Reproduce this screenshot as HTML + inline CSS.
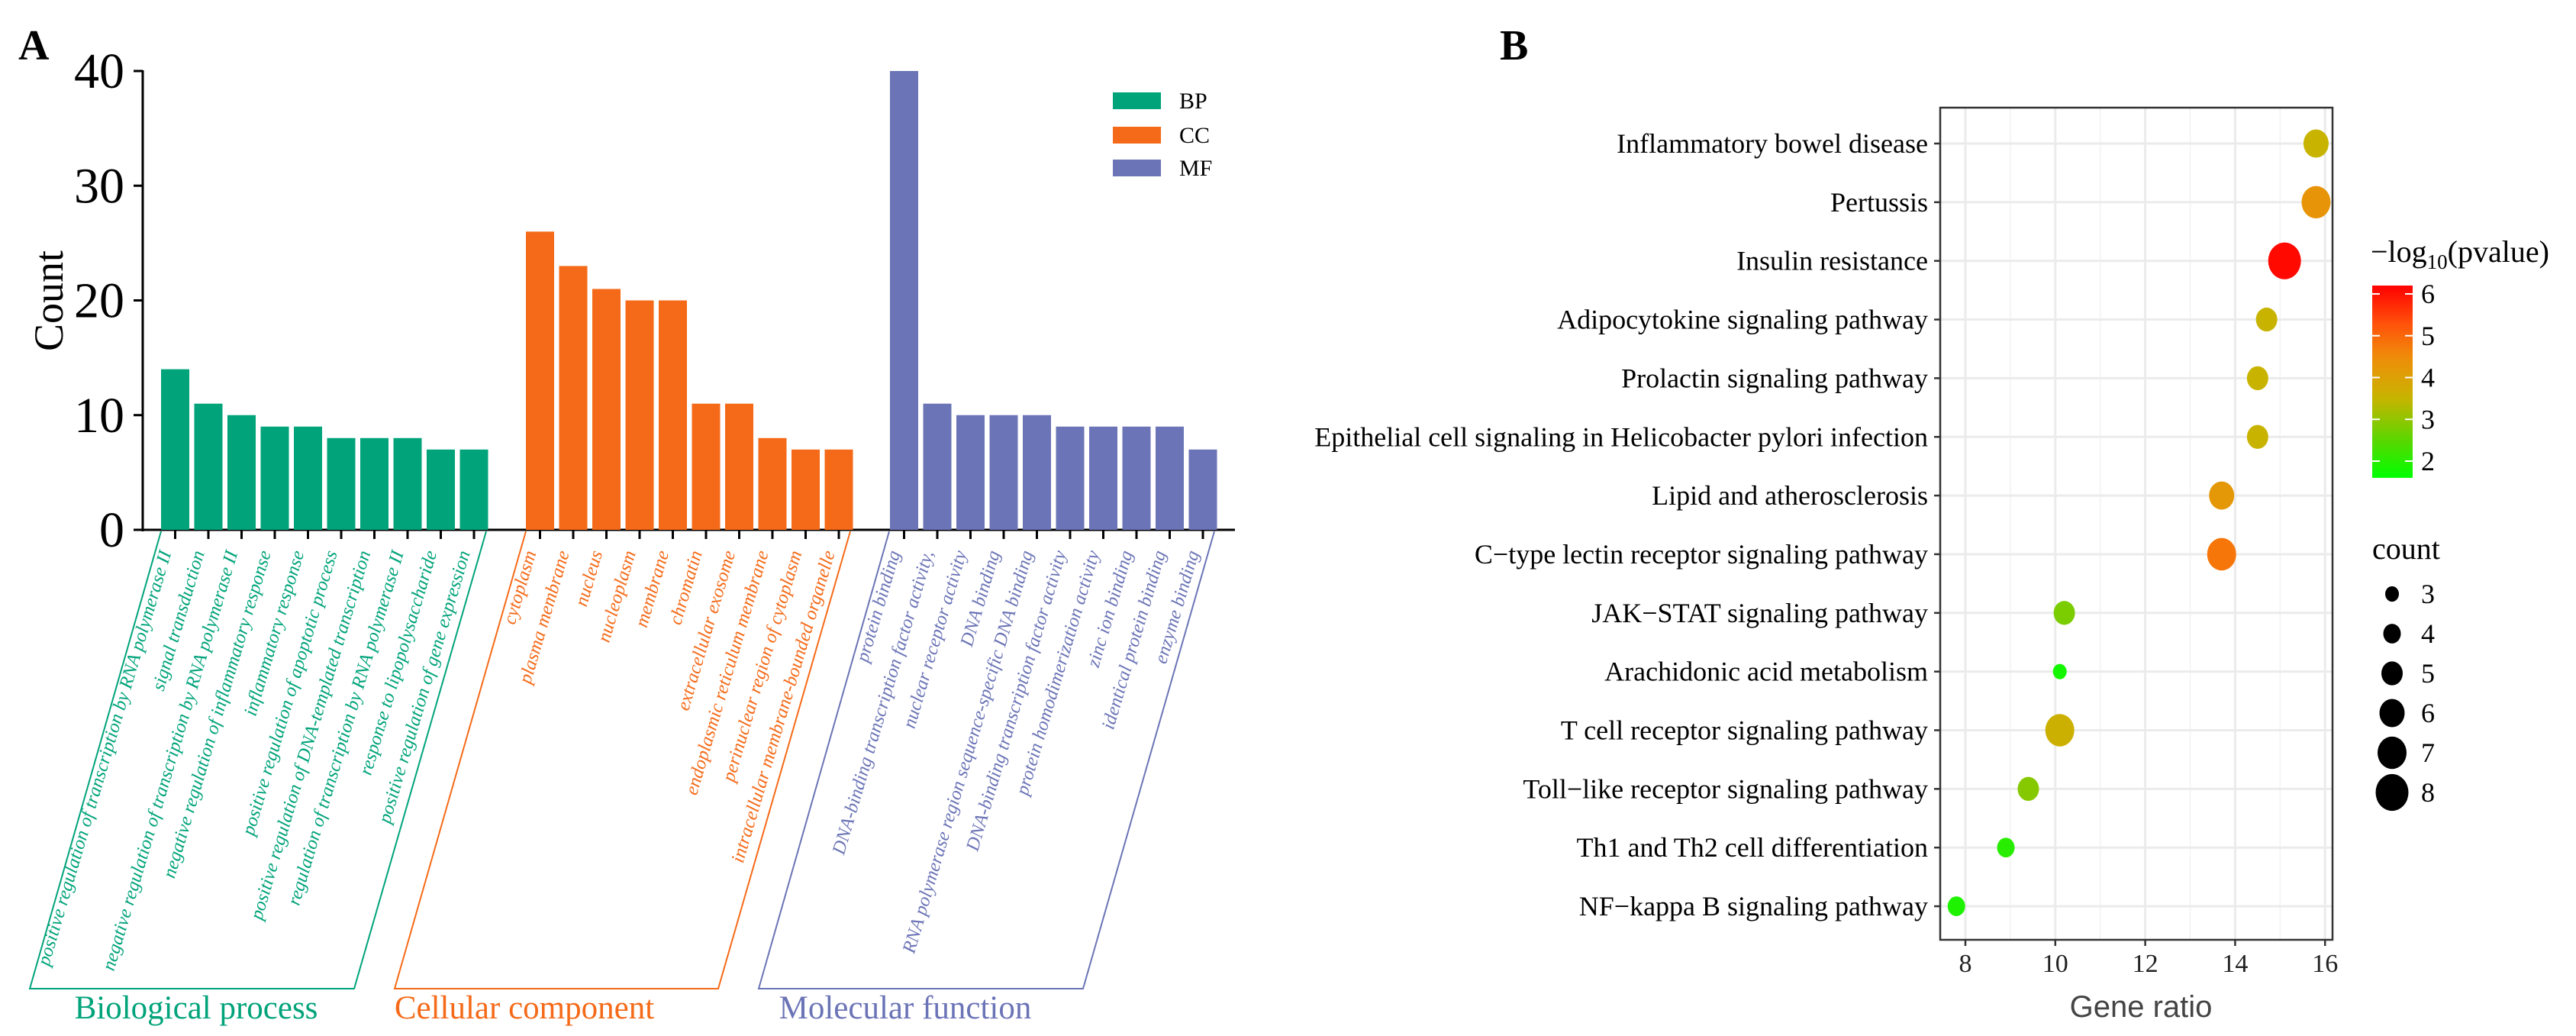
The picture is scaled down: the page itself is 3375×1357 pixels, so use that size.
<!DOCTYPE html>
<html><head><meta charset="utf-8"><style>html,body{margin:0;padding:0;background:#fff}svg{display:block}.s{font-family:"Liberation Serif",serif}.ss{font-family:"Liberation Sans",sans-serif}</style></head>
<body>
<svg id="fig" width="3375" height="1357" viewBox="0 0 3375 1357" xmlns="http://www.w3.org/2000/svg" style="font-family:'Liberation Serif',serif">
<g id="pa"></g>
<g id="pb"></g>
</svg>
<script>
// ---- Panel A data ----
const bpTerms = ["positive regulation of transcription by RNA polymerase II","signal transduction","negative regulation of transcription by RNA polymerase II","negative regulation of inflammatory response","inflammatory response","positive regulation of apoptotic process","positive regulation of DNA-templated transcription","regulation of transcription by RNA polymerase II","response to lipopolysaccharide","positive regulation of gene expression"];
const bpCounts = [14,11,10,9,9,8,8,8,7,7];
const ccTerms = ["cytoplasm","plasma membrane","nucleus","nucleoplasm","membrane","chromatin","extracellular exosome","endoplasmic reticulum membrane","perinuclear region of cytoplasm","intracellular membrane-bounded organelle"];
const ccCounts = [26,23,21,20,20,11,11,8,7,7];
const mfTerms = ["protein binding","DNA-binding transcription factor activity,","nuclear receptor activity","DNA binding","RNA polymerase region sequence-specific DNA binding","DNA-binding transcription factor activity","protein homodimerization activity","zinc ion binding","identical protein binding","enzyme binding"];
const mfCounts = [40,11,10,10,10,9,9,9,9,7];
const countTicks = [0,10,20,30,40];
// ---- Panel B data ----
const pathways = ["Inflammatory bowel disease","Pertussis","Insulin resistance","Adipocytokine signaling pathway","Prolactin signaling pathway","Epithelial cell signaling in Helicobacter pylori infection","Lipid and  atherosclerosis","C\u2212type lectin receptor signaling pathway","JAK\u2212STAT signaling pathway","Arachidonic acid metabolism","T cell receptor signaling pathway","Toll\u2212like receptor signaling pathway","Th1 and Th2 cell differentiation","NF\u2212kappa B signaling pathway"];
const geneRatio = [15.8,15.8,15.1,14.7,14.5,14.5,13.7,13.7,10.2,10.1,10.1,9.4,8.9,7.8];
const logP = [3.5,4.3,6.1,3.5,3.5,3.5,4.2,4.8,2.8,1.8,3.6,2.9,2.0,1.9];
const geneCount = [6,7,8,5,5,5,6,7,5,3,7,5,4,4];
const ratioTicks = [8,10,12,14,16];
const colorTicks = [2,3,4,5,6];
const sizeLegend = [3,4,5,6,7,8];

const NS="http://www.w3.org/2000/svg";
function mk(parent,tag,attrs,txt){const e=document.createElementNS(NS,tag);for(const k in attrs)e.setAttribute(k,attrs[k]);if(txt!==undefined)e.textContent=txt;if(tag==='text'&&!attrs['class'])e.setAttribute('class','s');parent.appendChild(e);return e;}

// ===== Panel A =====
const pa=document.getElementById('pa');
const yA=v=>694-v*15.025;
const GREEN="#00a37a",ORANGE="#f56a18",PURPLE="#6b74b6";
let t=mk(pa,'text',{x:24,y:78,'font-size':56,'font-weight':'bold'},'A');

t=mk(pa,'text',{x:0,y:0,'font-size':54,'text-anchor':'middle',transform:'translate(82,394) rotate(-90)'},'Count');

let l=mk(pa,'line',{x1:187,y1:92,x2:187,y2:696,stroke:'#000','stroke-width':3});

l=mk(pa,'line',{x1:185,y1:694,x2:1618,y2:694,stroke:'#000','stroke-width':3});

countTicks.forEach(v=>{
  const tk=mk(pa,'line',{x1:175,y1:yA(v),x2:187,y2:yA(v),stroke:'#000','stroke-width':3});
  
  const tl=mk(pa,'text',{x:163,y:yA(v)+22,'font-size':66,'text-anchor':'end'},String(v));
  
});
const groups=[{terms:bpTerms,vals:bpCounts,x0:211,color:GREEN,key:'bp'},{terms:ccTerms,vals:ccCounts,x0:689,color:ORANGE,key:'cc'},{terms:mfTerms,vals:mfCounts,x0:1166,color:PURPLE,key:'mf'}];
const pitch=43.5,bw=37;
groups.forEach(g=>{
  g.vals.forEach((v,i)=>{
    const x=g.x0+i*pitch;
    const r=mk(pa,'rect',{x:x,y:yA(v),width:bw,height:694-yA(v),fill:g.color});
    
    const cx=x+bw/2;
    const tk=mk(pa,'line',{x1:cx,y1:694,x2:cx,y2:706,stroke:'#000','stroke-width':3});
    
    const tl=mk(pa,'text',{x:0,y:0,'font-size':24.5,'font-style':'italic','text-anchor':'end',fill:g.color,transform:`translate(${cx-5},${724}) rotate(-73.5)`},g.terms[i]);
    
  });
});
const brackets=[{pts:"211,696 39,1295 464,1295 637,696",c:GREEN,lab:"Biological process",lx:257,k:'bp'},{pts:"689,696 517,1295 941,1295 1114,696",c:ORANGE,lab:"Cellular component",lx:687,k:'cc'},{pts:"1165,696 994,1295 1419,1295 1591,696",c:PURPLE,lab:"Molecular function",lx:1186,k:'mf'}];
brackets.forEach(b=>{
  const p=mk(pa,'polyline',{points:b.pts,fill:'none',stroke:b.c,'stroke-width':2});
  
  const tx=mk(pa,'text',{x:b.lx,y:1334,'font-size':43,'text-anchor':'middle',fill:b.c},b.lab);
  
});
[["BP",GREEN,121],["CC",ORANGE,166],["MF",PURPLE,209]].forEach(e=>{
  const r=mk(pa,'rect',{x:1458,y:e[2],width:63,height:22,fill:e[1]});
  
  const tx=mk(pa,'text',{x:1545,y:e[2]+21,'font-size':30},e[0]);
  
});

// ===== Panel B =====
const pb=document.getElementById('pb');
const L=2542,R=3056,T=141,B=1231;
const xB=v=>2575+(v-8)*58.9;
const yB=i=>188+i*76.85;
const cY=v=>604-(v-2)*54.75;
const rS=c=>9+(c-3)*2.5;
function colorOf(v){
  const st=[[1.6,[0,255,0]],[2.5,[90,215,0]],[3.5,[200,180,0]],[4.5,[240,140,10]],[5.3,[255,80,10]],[6.2,[255,0,0]]];
  if(v<=st[0][0])return 'rgb('+st[0][1]+')';
  for(let i=1;i<st.length;i++){if(v<=st[i][0]){const f=(v-st[i-1][0])/(st[i][0]-st[i-1][0]);const c=st[i-1][1].map((a,j)=>Math.round(a+(st[i][1][j]-a)*f));return `rgb(${c})`;}}
  return 'rgb(255,0,0)';
}
t=mk(pb,'text',{x:1965,y:78,'font-size':56,'font-weight':'bold'},'B');

[9,11,13,15].forEach(v=>{const g=mk(pb,'line',{x1:xB(v),y1:T,x2:xB(v),y2:B,stroke:'#f2f2f2','stroke-width':1.5});});
ratioTicks.forEach(v=>{
  const g=mk(pb,'line',{x1:xB(v),y1:T,x2:xB(v),y2:B,stroke:'#ebebeb','stroke-width':3});
  
  const tk=mk(pb,'line',{x1:xB(v),y1:B,x2:xB(v),y2:B+8,stroke:'#333','stroke-width':2.5});
  
  const tl=mk(pb,'text',{x:xB(v),y:B+42,'font-size':34,'text-anchor':'middle',fill:'#222'},String(v));
  
});
pathways.forEach((p,i)=>{
  const g=mk(pb,'line',{x1:L,y1:yB(i),x2:R,y2:yB(i),stroke:'#ebebeb','stroke-width':3});
  
  const tk=mk(pb,'line',{x1:L-8,y1:yB(i),x2:L,y2:yB(i),stroke:'#333','stroke-width':2.5});
  
  const tl=mk(pb,'text',{x:L-16,y:yB(i)+12,'font-size':36,'text-anchor':'end'},p);
  
});
pathways.forEach((p,i)=>{
  const r=rS(geneCount[i]);
  const c=mk(pb,'ellipse',{cx:xB(geneRatio[i]),cy:yB(i),rx:r,ry:r*1.12,fill:colorOf(logP[i])});
  
});
let fr=mk(pb,'rect',{x:L,y:T,width:R-L,height:B-T,fill:'none',stroke:'#333','stroke-width':2.5});

t=mk(pb,'text',{x:2805,y:1332,'font-size':40,'text-anchor':'middle',fill:'#444','class':'ss'},'Gene ratio');

// colorbar
const defs=mk(pb,'defs',{});
const lg=mk(defs,'linearGradient',{id:'cb',x1:0,y1:1,x2:0,y2:0});
for(let k=0;k<=20;k++){const v=1.6+(6.2-1.6)*k/20;mk(lg,'stop',{offset:k/20,'stop-color':colorOf(v)});}
t=mk(pb,'text',{x:3106,y:343,'font-size':40},'');

mk(t,'tspan',{},'\u2212log');mk(t,'tspan',{'font-size':27,dy:9},'10');mk(t,'tspan',{dy:-9},'(pvalue)');
let cb=mk(pb,'rect',{x:3108,y:cY(6.2),width:53,height:cY(1.6)-cY(6.2),fill:'url(#cb)'});

colorTicks.forEach(v=>{
  const a=mk(pb,'line',{x1:3108,y1:cY(v),x2:3118,y2:cY(v),stroke:'#fff','stroke-width':2});
  const b=mk(pb,'line',{x1:3151,y1:cY(v),x2:3161,y2:cY(v),stroke:'#fff','stroke-width':2});
  const tl=mk(pb,'text',{x:3172,y:cY(v)+12,'font-size':36},String(v));
  
});
t=mk(pb,'text',{x:3108,y:732,'font-size':40},'count');

sizeLegend.forEach((s,k)=>{
  const cy=778+k*52;
  const r=rS(s);
  const c=mk(pb,'ellipse',{cx:3134,cy:cy,rx:r,ry:r*1.12,fill:'#000'});
  
  const tl=mk(pb,'text',{x:3172,y:cy+12,'font-size':36},String(s));
  
});
</script>
</body></html>
